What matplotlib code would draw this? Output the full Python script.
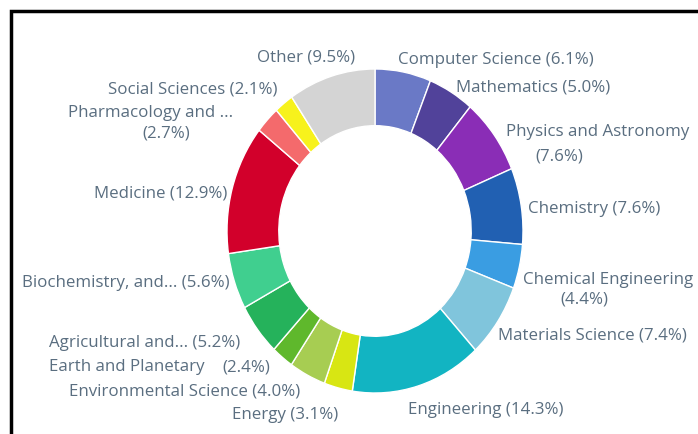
import matplotlib
matplotlib.use("Agg")
import matplotlib.pyplot as plt
from matplotlib.patches import Rectangle

# subject areas, clockwise from 12 o'clock
subjects = ["Computer Science", "Mathematics", "Physics and Astronomy", "Chemistry",
            "Chemical Engineering", "Materials Science", "Engineering", "Energy",
            "Environmental Science", "Earth and Planetary", "Agricultural and...",
            "Biochemistry, and...", "Medicine", "Pharmacology and ...",
            "Social Sciences", "Other"]
shares = [6.1, 5.0, 7.6, 7.6, 4.4, 7.4, 14.3, 3.1, 4.0, 2.4, 5.2, 5.6, 12.9, 2.7, 2.1, 9.5]
colors = ["#6a79c6", "#51429a", "#8a2db6", "#2160b2", "#3a9de2", "#80c5dc",
          "#12b4c2", "#d8e613", "#a7cd52", "#5fb82c", "#25b25b", "#40cf8f",
          "#d2002b", "#f46a6c", "#f7f21c", "#d4d4d4"]

# where each label goes (pixels from top-left), and whether the value
# sits on its own piece of text: (x, y, ha) for name, then for value if split
label_pos = [
    [(398, 60, "left")],
    [(456, 87, "left")],
    [(506, 132, "left"), (535, 157, "left")],
    [(528, 209, "left")],
    [(523, 280, "left"), (560, 300, "left")],
    [(498, 336, "left")],
    [(408, 410, "left")],
    [(338, 415, "right")],
    [(300, 392, "right")],
    [(205, 367, "right"), (270, 367, "right")],
    [(240, 343, "right")],
    [(230, 283, "right")],
    [(227, 193, "right")],
    [(233, 113, "right"), (190, 134, "right")],
    [(278, 89, "right")],
    [(355, 58, "right")],
]

W, H = 698, 434
fig = plt.figure(figsize=(W / 100, H / 100), dpi=100)

ax = fig.add_axes([227 / W, (H - 393) / H, 296 / W, 324 / H])
ax.pie(shares, colors=colors, startangle=90, counterclock=False,
       wedgeprops=dict(width=0.35, edgecolor="white", linewidth=1))
ax.set_aspect("auto")
ax.set_xlim(-1, 1)
ax.set_ylim(-1, 1)
ax.axis("off")

txt_color = "#5a6e80"
for name, val, pos in zip(subjects, shares, label_pos):
    value = "(%.1f%%)" % val
    if len(pos) == 1:
        pieces = [name + " " + value]
    else:
        pieces = [name, value]
    for piece, (x, y, ha) in zip(pieces, pos):
        fig.text(x / W, 1 - y / H, piece, ha=ha, va="center", fontsize=12.2,
                 family="Open Sans", color=txt_color)

# frame, cut off at the right and bottom edges
fig.patches.append(Rectangle((10.5 / W, -0.1), 1.2, 1 - 11 / H + 0.1,
                             transform=fig.transFigure, fill=False,
                             edgecolor="black", linewidth=2.5))

fig.savefig("out.png", dpi=100)
